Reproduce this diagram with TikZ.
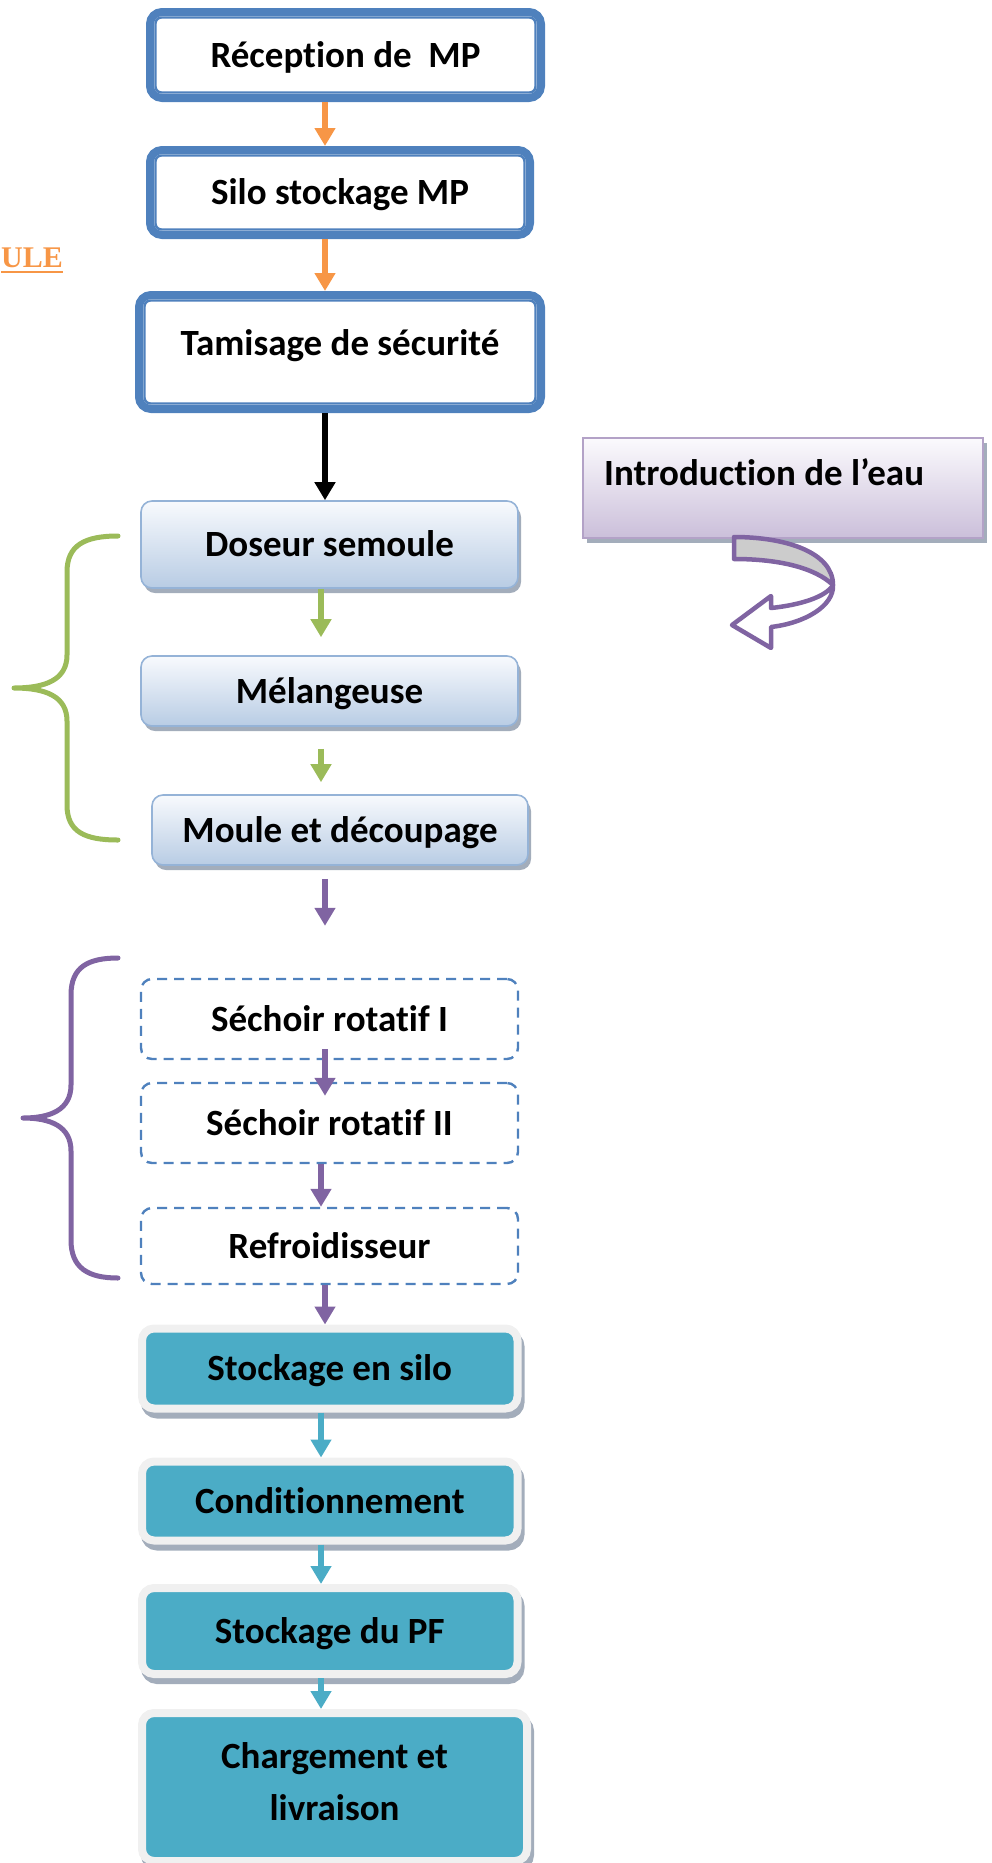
\documentclass[tikz,border=0pt]{standalone}
\usepackage{fontspec}
\setmainfont{Carlito}[Ligatures=NoCommon]
\newfontfamily\ulefont{Liberation Serif}
\usetikzlibrary{arrows.meta,shadows}

\definecolor{flowblue}{HTML}{4F81BD}
\definecolor{paleblue}{HTML}{95B3D7}
\definecolor{gradtop}{HTML}{F8FAFD}
\definecolor{gradbot}{HTML}{B8CCE4}
\definecolor{tealfill}{HTML}{4BACC6}
\definecolor{rimgray}{HTML}{F0F0F0}
\definecolor{lavtop}{HTML}{FBFAFD}
\definecolor{lavbot}{HTML}{CBBFDA}
\definecolor{lavedge}{HTML}{B3A2C7}
\definecolor{orangeA}{HTML}{F79646}
\definecolor{greenA}{HTML}{9BBB59}
\definecolor{purpleA}{HTML}{8064A2}
\definecolor{shadowcol}{HTML}{A3ADBB}

\begin{document}
\begin{tikzpicture}[x=1pt,y=-1pt,
  txtfont/.style={font=\fontsize{37}{52}\selectfont\bfseries},
  txt/.style={txtfont, text height=24pt, text depth=0pt},
  dblbox/.style={txt, draw=flowblue, line width=8pt, rounded corners=12pt, fill=white, inner sep=0pt},
  innerline/.style={draw=flowblue, line width=2.4pt, rounded corners=6pt},
  gradbox/.style={txt, draw=paleblue, line width=1.6pt, rounded corners=11pt,
    top color=gradtop, bottom color=gradbot, inner sep=0pt,
    drop shadow={shadow xshift=3pt, shadow yshift=-5pt, fill=shadowcol, opacity=1}},
  dashbox/.style={txt, draw=flowblue, line width=2.4pt, dash pattern=on 10pt off 7pt,
    rounded corners=11pt, fill=white, inner sep=0pt},
  tealbox/.style={draw=rimgray, line width=8pt, fill=tealfill, rounded corners=12pt, inner sep=0pt,
    general shadow={shadow xshift=3pt, shadow yshift=-6pt, fill=shadowcol, draw=shadowcol, line width=8pt}},
  introbox/.style={draw=lavedge, line width=2pt, top color=lavtop, bottom color=lavbot, inner sep=0pt,
    drop shadow={shadow xshift=4pt, shadow yshift=-5pt, fill=shadowcol, opacity=1}},
  flow/.style={line width=6pt, -{Triangle[width=20pt,length=18pt]}},
  bracket/.style={line width=5pt, line cap=round, line join=round},
]
\useasboundingbox (0,0) rectangle (991,1863);

% arrow columns
\coordinate (axA) at (325,0);
\coordinate (axB) at (321,0);

% title fragment
\node[font=\ulefont\bfseries\fontsize{30}{36}\selectfont, text=orangeA, anchor=base west, inner sep=0pt] (ule) at (1,267) {ULE};
\draw[orangeA, line width=2.5pt] ([yshift=-5pt]ule.base west) -- ([yshift=-5pt]ule.base east);

% raw material stage
\node[dblbox, minimum width=391pt, minimum height=86pt] (recep) at (345.5,55) {Réception de~\ MP};
\node[dblbox, minimum width=380pt, minimum height=85pt] (silo) at (340,192.5) {Silo stockage MP};
\node[dblbox, minimum width=402pt, minimum height=114pt,
  label={[txt, inner sep=0pt, yshift=9pt]center:Tamisage de sécurité}] (tamis) at (340,352) {};
\foreach \n in {recep,silo,tamis}
  \draw[innerline] ([shift={(9.5,9.5)}]\n.north west) rectangle ([shift={(-9.5,-9.5)}]\n.south east);

% dough preparation
\node[gradbox, minimum width=377pt, minimum height=87pt] (dos) at (329.5,544.5) {Doseur semoule};
\node[gradbox, minimum width=377pt, minimum height=70pt] (mel) at (329.5,691) {Mélangeuse};
\node[gradbox, minimum width=376pt, minimum height=70pt] (moule) at (340,830) {Moule et découpage};

% water input
\node[introbox, minimum width=400pt, minimum height=100pt,
  label={[txt, inner sep=0pt, anchor=west, xshift=22pt, yshift=15pt]west:Introduction de l’eau}] (intro) at (783,488) {};
\draw[purpleA, line width=4.5pt, line join=round, fill=gray!40]
  (734,537) .. controls (785,537) and (833,552) .. (833,585)
  .. controls (815,568) and (780,559) .. (734,559) -- cycle;
\draw[purpleA, line width=4.5pt, line join=round, fill=white]
  (833,585) .. controls (834,606) and (805,623) .. (771,627) -- (771,648) -- (732,625)
  -- (771,596) -- (771,608) .. controls (800,605) and (826,597) .. (833,585) -- cycle;

% drying stage
\node[dashbox, minimum width=377pt, minimum height=80pt] (sech1) at (329.5,1019) {Séchoir rotatif I};
\node[dashbox, minimum width=377pt, minimum height=80pt] (sech2) at (329.5,1123) {Séchoir rotatif II};
\node[dashbox, minimum width=377pt, minimum height=76pt] (refr) at (329.5,1246) {Refroidisseur};

% storage and shipping
\node[tealbox, txt, minimum width=375.5pt, minimum height=80pt] (stock) at (329.75,1368.5) {Stockage en silo};
\node[tealbox, txt, minimum width=375.5pt, minimum height=79pt] (cond) at (329.75,1501) {Conditionnement};
\node[tealbox, txt, minimum width=375.5pt, minimum height=86pt] (pf) at (329.75,1631) {Stockage du PF};
\node[tealbox, minimum width=385pt, minimum height=148pt,
  label={[txtfont, align=center, inner sep=0pt, yshift=5pt]center:Chargement et\\livraison}] (charg) at (334.5,1787) {};

% connectors
\draw[flow, orangeA] (recep.south -| axA) -- (silo.north -| axA);
\draw[flow, orangeA] (silo.south -| axA) -- (tamis.north -| axA);
\draw[flow, black] (tamis.south -| axA) -- (dos.north -| axA);
\draw[flow, greenA, shorten >=18pt] (dos.south -| axB) -- (mel.north -| axB);
\draw[flow, greenA, shorten <=22pt, shorten >=12pt] (mel.south -| axB) -- (moule.north -| axB);
\draw[flow, purpleA, shorten <=13pt, shorten >=52pt] (moule.south -| axA) -- (sech1.north -| axA);
\draw[flow, purpleA, shorten <=-11pt, shorten >=-14pt] (sech1.south -| axA) -- (sech2.north -| axA);
\draw[flow, purpleA] (sech2.south -| axB) -- (refr.north -| axB);
\draw[flow, purpleA] (refr.south -| axA) -- (stock.north -| axA);
\draw[flow, tealfill] (stock.south -| axB) -- (cond.north -| axB);
\draw[flow, tealfill] (cond.south -| axB) -- (pf.north -| axB);
\draw[flow, tealfill] (pf.south -| axB) -- (charg.north -| axB);

% grouping braces
\draw[bracket, greenA] (118,536) .. controls (85,536) and (67,545) .. (67,572) -- (67,655)
  .. controls (67,680) and (45,688) .. (14,688) .. controls (45,688) and (67,696) .. (67,721)
  -- (67,805) .. controls (67,832) and (85,840) .. (118,840);
\draw[bracket, purpleA] (118,958) .. controls (88,958) and (71,967) .. (71,995) -- (71,1085)
  .. controls (71,1110) and (50,1118) .. (23,1118) .. controls (50,1118) and (71,1126) .. (71,1151)
  -- (71,1240) .. controls (71,1268) and (88,1278) .. (118,1278);
\end{tikzpicture}
\end{document}
